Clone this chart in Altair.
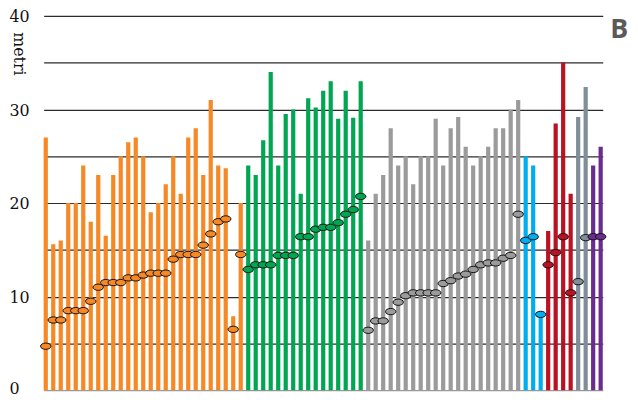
import altair as alt
import pandas as pd

# --- data -------------------------------------------------------------------
orange_bars = [27.0, 15.6, 16.0, 20.0, 20.0, 24.0, 18.0, 23.0, 16.5, 23.0, 25.0, 26.5, 27.0, 25.0,
               19.0, 20.0, 22.0, 25.0, 21.0, 27.0, 28.0, 23.0, 31.0, 24.0, 23.7, 7.9, 20.0]
orange_dots = [4.7, 7.5, 7.5, 8.5, 8.5, 8.5, 9.5, 11.0, 11.5, 11.5, 11.5, 12.0, 12.0, 12.3,
               12.5, 12.5, 12.5, 14.0, 14.5, 14.5, 14.5, 15.5, 16.7, 18.0, 18.3, 6.5, 14.5]

green_bars = [24.0, 23.0, 26.7, 34.0, 24.0, 29.5, 30.0, 21.0, 31.2, 30.2, 32.0, 33.0, 29.0, 32.0, 29.1, 33.0]
green_dots = [12.9, 13.4, 13.4, 13.4, 14.4, 14.4, 14.4, 16.4, 16.4, 17.2, 17.4, 17.4, 17.9, 18.8, 19.3, 20.7]

grey_bars = [16.0, 21.0, 23.0, 28.0, 24.0, 25.0, 22.0, 25.0, 25.0, 29.0, 24.0, 28.0, 29.2, 26.0,
             24.0, 25.0, 26.0, 28.0, 28.0, 30.0, 31.0]
grey_dots = [6.4, 7.4, 7.4, 8.4, 9.4, 10.1, 10.4, 10.4, 10.4, 10.4, 11.4, 11.7, 12.2, 12.4,
             12.9, 13.4, 13.6, 13.6, 14.1, 14.4, 18.8]

blue_bars = [25.0, 24.0, 8.1]
blue_dots = [16.0, 16.4, 8.1]

red_bars = [17.0, 28.5, 35.0, 21.0]
red_dots = [13.4, 14.7, 16.4, 10.4]

slate_bars = [29.2, 32.4]
slate_dots = [11.6, 16.3]

purple_bars = [24.0, 26.0]
purple_dots = [16.4, 16.4]

groups = ["orange", "green", "grey", "blue", "red", "slate", "purple"]
group_colors = ["#F68825", "#00A651", "#9B9B9B", "#00AEEF", "#BA1222", "#7F8E99", "#6A2C8F"]
y_ticks = [0, 5, 10, 15, 20, 25, 30, 35, 40]

series = [
    (orange_bars, orange_dots), (green_bars, green_dots), (grey_bars, grey_dots),
    (blue_bars, blue_dots), (red_bars, red_dots), (slate_bars, slate_dots),
    (purple_bars, purple_dots),
]

rows = []
idx = 0
for g, (bars, dots) in zip(groups, series):
    for b, d in zip(bars, dots):
        rows.append({"i": idx, "group": g, "bar": b, "dot": d})
        idx += 1
df = pd.DataFrame(rows)

W, H = 567, 378
color = alt.Color("group:N", scale=alt.Scale(domain=groups, range=group_colors), legend=None)
x = alt.X("i:O", axis=None,
          scale=alt.Scale(range=[0, 564.5], paddingInner=0.44, paddingOuter=0))

yaxis = alt.Axis(
    values=y_ticks,
    labelExpr="datum.value % 10 === 0 ? datum.label : ''",
    labelAlign="left",
    labelBaseline="middle",
    labelPadding=35,
    labelOffset={"condition": {"test": "datum.value === 0", "value": -2}, "value": 1},
    labelFont="DejaVu Serif",
    labelFontSize=16,
    labelColor="#111",
    ticks=False,
    tickSize=0,
    domain=False,
    grid=True,
    gridColor={"condition": {"test": "datum.value === 0", "value": "#9a9a9a"}, "value": "#2b2b2b"},
    gridWidth=1.2,
    title="metri",
    titleFont="DejaVu Serif",
    titleFontSize=16,
    titleFontWeight="normal",
    titleColor="#111",
    titleAngle=90,
    titleAlign="left",
    titleBaseline="alphabetic",
    titleX=-30,
    titleY=16,
)
yscale = alt.Scale(domain=[0, 40], nice=False)

base = alt.Chart(df)
bars = base.mark_bar().encode(
    x=x,
    y=alt.Y("bar:Q", scale=yscale, axis=yaxis),
    color=color,
)
dots = base.mark_point(
    shape="M-1,0A1,0.6 0 1,0 1,0A1,0.6 0 1,0 -1,0Z",
    size=112, filled=True, opacity=1, stroke="#111", strokeWidth=1,
).encode(
    x=x,
    y=alt.Y("dot:Q", scale=yscale),
    fill=alt.Fill("group:N", scale=alt.Scale(domain=groups, range=group_colors), legend=None),
)
letter = alt.Chart(pd.DataFrame({"t": ["B"]})).mark_text(
    font="Open Sans", fontWeight="bold", fontSize=27, color="#5a5a5a",
    align="left", baseline="alphabetic",
).encode(text="t:N", x=alt.value(572), y=alt.value(22))

chart = alt.layer(bars, dots, letter).properties(
    width=W, height=H,
    autosize=alt.AutoSizeParams(type="none"),
    padding={"left": 36, "top": 6, "right": 25, "bottom": 7},
).configure_view(stroke=None)

chart.save("out.html", embed_options={"renderer": "svg", "actions": False})
